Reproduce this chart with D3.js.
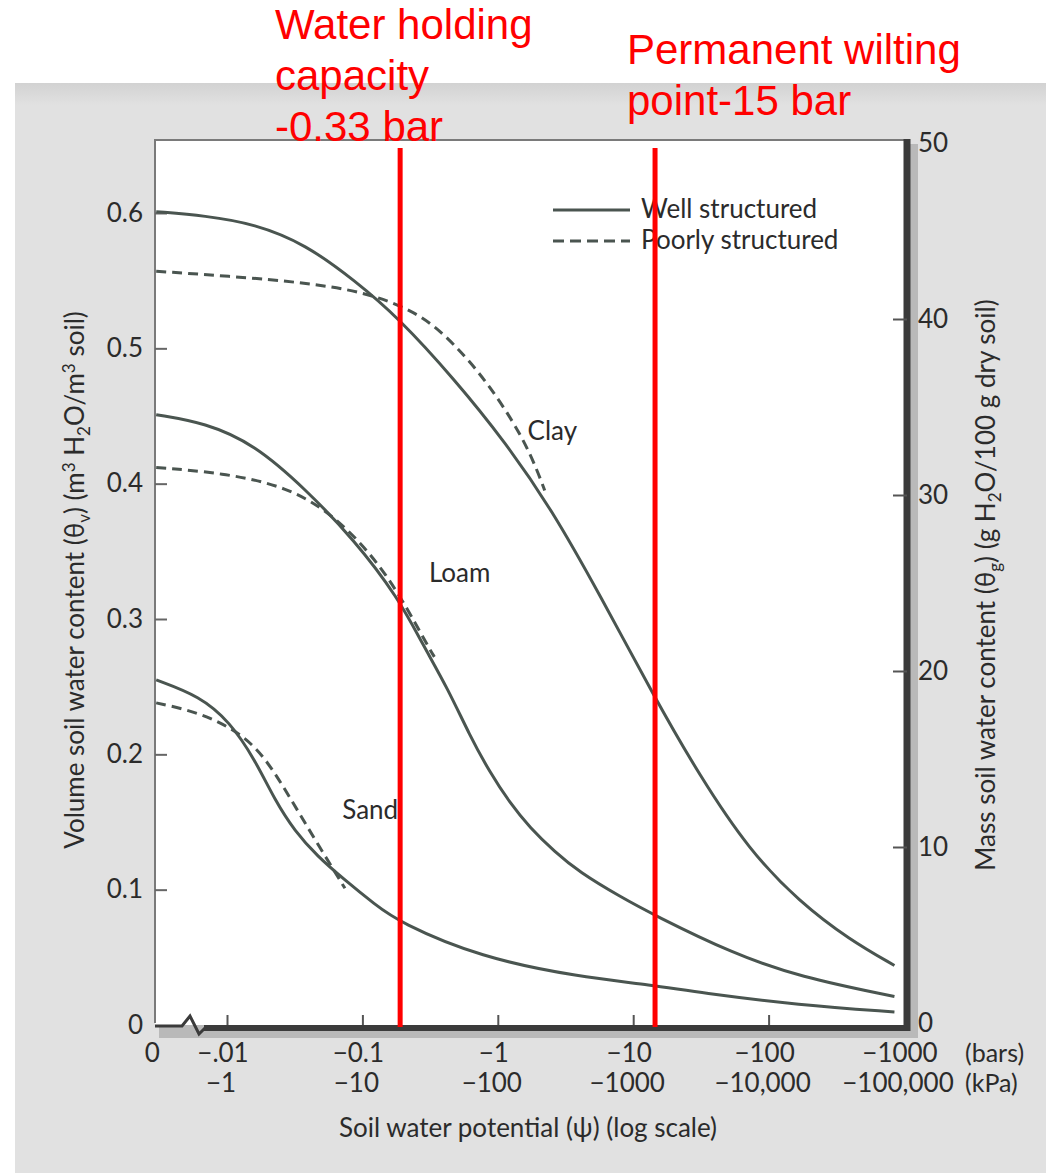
<!DOCTYPE html>
<html>
<head>
<meta charset="utf-8">
<script src="https://cdn.jsdelivr.net/npm/d3@7"></script>
<style>
  body { margin: 0; background: #fff; }
  svg text { font-family: Lato, "Open Sans", sans-serif; fill: #2b2b2b; }
</style>
</head>
<body>
<svg id="chart" width="1046" height="1173"></svg>
<script>
// soil water potential in bars (as magnitudes), water content in m3/m3
// 0.003 stands in for the "0" at the broken left end of the log axis
var zeroPot = 0.003;

var clayWell = [[0.003, 0.601], [0.0069, 0.598], [0.016, 0.592], [0.038, 0.577], [0.088, 0.550],
    [0.183, 0.523], [0.48, 0.477], [1.13, 0.431], [2.5, 0.381], [5.66, 0.318], [14.4, 0.242],
    [31, 0.184], [72, 0.129], [169, 0.091], [396, 0.063], [850, 0.044]];
var clayPoor = [[0.003, 0.557], [0.016, 0.552], [0.05, 0.547], [0.118, 0.540], [0.275, 0.525],
    [0.48, 0.503], [0.84, 0.475], [1.5, 0.436], [1.97, 0.409], [2.22, 0.395]];
var loamWell = [[0.003, 0.451], [0.0069, 0.445], [0.016, 0.429], [0.038, 0.396], [0.088, 0.358],
    [0.183, 0.316], [0.28, 0.281], [0.43, 0.248], [0.62, 0.214], [0.87, 0.187], [1.23, 0.164],
    [1.72, 0.146], [2.63, 0.128], [4.0, 0.113], [7.95, 0.095], [14.4, 0.081], [54, 0.053],
    [169, 0.0355], [850, 0.021]];
var loamPoor = [[0.003, 0.412], [0.0092, 0.408], [0.028, 0.398], [0.066, 0.375], [0.154, 0.334],
    [0.30, 0.281], [0.34, 0.272]];
var sandWell = [[0.003, 0.255], [0.0063, 0.243], [0.0105, 0.224], [0.0161, 0.196], [0.0226, 0.166],
    [0.0318, 0.143], [0.0462, 0.125], [0.0743, 0.107], [0.124, 0.089], [0.186, 0.076],
    [0.74, 0.050], [4.0, 0.0355], [13.9, 0.0296], [31, 0.0237], [169, 0.0148], [850, 0.0096]];
var sandPoor = [[0.003, 0.238], [0.0063, 0.231], [0.0125, 0.216], [0.0191, 0.198], [0.0292, 0.168],
    [0.0446, 0.137], [0.0743, 0.101]];

var soilNames = ["Clay", "Loam", "Sand"];
var soilLabelAt = [[1.66, 0.432], [0.31, 0.327], [0.071, 0.152]];

var leftTicks = [0, 0.1, 0.2, 0.3, 0.4, 0.5, 0.6];
var rightTicks = [0, 10, 20, 30, 40, 50];
var barTicks = [zeroPot, 0.01, 0.1, 1, 10, 100, 1000];
var barLabels = ["0", "\u2212.01", "\u22120.1", "\u22121", "\u221210", "\u2212100", "\u22121000"];
var kpaTicks = [0.01, 0.1, 1, 10, 100, 1000];
var kpaLabels = ["\u22121", "\u221210", "\u2212100", "\u22121000", "\u221210,000", "\u2212100,000"];

// red markers: field capacity and permanent wilting point (bars)
var markerPots = [0.19, 14.5];

var svg = d3.select("#chart");
var curveColor = "#4a5550";

var x = d3.scaleLog().domain([0.01, 1000]).range([227, 904]);
var y = d3.scaleLinear().domain([0, 0.6]).range([1025, 213]);
var yR = d3.scaleLinear().domain([0, 50]).range([1023, 143]);

var plotLeft = 155, plotTop = 140, plotRight = 904, plotBottom = 1025;

// grey panel
var defs = svg.append("defs");
var grad = defs.append("linearGradient").attr("id", "topband")
    .attr("x1", 0).attr("y1", 0).attr("x2", 0).attr("y2", 1);
grad.append("stop").attr("offset", "0%").attr("stop-color", "#d2d2d2");
grad.append("stop").attr("offset", "100%").attr("stop-color", "#e1e1e1");
svg.append("rect").attr("x", 15).attr("y", 83).attr("width", 1031).attr("height", 1090)
    .attr("fill", "#e1e1e1");
svg.append("rect").attr("x", 15).attr("y", 83).attr("width", 1031).attr("height", 22)
    .attr("fill", "url(#topband)");

// plot box with shadow on right and bottom
svg.append("rect").attr("x", plotLeft + 4).attr("y", plotTop + 4)
    .attr("width", plotRight - plotLeft + 10).attr("height", plotBottom - plotTop + 9)
    .attr("fill", "#b9b9b9");
svg.append("rect").attr("x", plotLeft).attr("y", plotTop)
    .attr("width", plotRight - plotLeft).attr("height", plotBottom - plotTop)
    .attr("fill", "#fff");
svg.append("path")
    .attr("d", "M" + plotLeft + "," + (plotBottom - 2) + "V" + plotTop + "H" + (plotRight + 2))
    .attr("fill", "none").attr("stroke", "#7a7a7a").attr("stroke-width", 2);
svg.append("line").attr("x1", plotRight + 3).attr("x2", plotRight + 3)
    .attr("y1", plotTop - 1).attr("y2", plotBottom + 6)
    .attr("stroke", "#3b3b3b").attr("stroke-width", 7);
svg.append("line").attr("x1", 204).attr("x2", plotRight + 6)
    .attr("y1", plotBottom + 3).attr("y2", plotBottom + 3)
    .attr("stroke", "#3b3b3b").attr("stroke-width", 6);
// broken axis near zero
svg.append("path")
    .attr("d", "M" + plotLeft + "," + (plotBottom + 1) + "H182L190,1016L199,1034L206,1027")
    .attr("fill", "none").attr("stroke", "#3b3b3b").attr("stroke-width", 3)
    .attr("stroke-linejoin", "miter");

// left axis (ticks inward)
var gL = svg.append("g").attr("transform", "translate(" + plotLeft + ",0)")
    .call(d3.axisLeft(y).tickValues(leftTicks).tickSize(-12).tickPadding(12)
        .tickFormat(function (d) { return d === 0 ? "0" : d3.format(".1f")(d); }));
gL.select(".domain").remove();
gL.selectAll(".tick line").attr("stroke", "#666").attr("stroke-width", 2)
    .filter(function (d) { return d === 0; }).remove();
gL.selectAll(".tick text").attr("font-size", 26).attr("font-family", "Lato").attr("fill", "#2b2b2b");

// right axis (ticks inward)
var gR = svg.append("g").attr("transform", "translate(" + (plotRight + 3) + ",0)")
    .call(d3.axisRight(yR).tickValues(rightTicks).tickSize(-14).tickPadding(11));
gR.select(".domain").remove();
gR.selectAll(".tick line").attr("stroke", "#555").attr("stroke-width", 2)
    .filter(function (d) { return d === 0 || d === 50; }).remove();
gR.selectAll(".tick text").attr("font-size", 26).attr("font-family", "Lato").attr("fill", "#2b2b2b");

// bottom ticks (inward)
var gB = svg.append("g").attr("transform", "translate(0," + plotBottom + ")")
    .call(d3.axisBottom(x).tickValues(kpaTicks.slice(0, 5)).tickSize(-10).tickFormat(""));
gB.select(".domain").remove();
gB.selectAll(".tick line").attr("stroke", "#555").attr("stroke-width", 2);

svg.append("g").selectAll("text").data(barTicks).join("text")
    .attr("x", function (d) { return x(d) - 4; })
    .attr("y", 1062)
    .attr("text-anchor", "middle")
    .attr("font-size", 26)
    .text(function (d, i) { return barLabels[i]; });
svg.append("g").selectAll("text").data(kpaTicks).join("text")
    .attr("x", function (d) { return x(d) - 6; })
    .attr("y", 1092)
    .attr("text-anchor", "middle")
    .attr("font-size", 26)
    .text(function (d, i) { return kpaLabels[i]; });
svg.append("text").attr("x", 965).attr("y", 1062).attr("font-size", 25).text("(bars)");
svg.append("text").attr("x", 965).attr("y", 1092).attr("font-size", 25).text("(kPa)");

svg.append("text").attr("x", 528).attr("y", 1137).attr("text-anchor", "middle")
    .attr("font-size", 26).text("Soil water potential (\u03c8) (log scale)");

// axis titles with sub/superscripts
function richText(sel, parts) {
    var shift = 0;
    parts.forEach(function (p) {
        var target = p[1] === "sub" ? 6 : p[1] === "sup" ? -9 : 0;
        sel.append("tspan").attr("dy", target - shift)
            .attr("font-size", p[1] ? 17 : null).text(p[0]);
        shift = target;
    });
}
var tl = svg.append("text").attr("transform", "translate(84,580) rotate(-90)")
    .attr("text-anchor", "middle").attr("font-size", 26);
richText(tl, [["Volume soil water content (\u03b8"], ["v", "sub"], [") (m"], ["3", "sup"],
    [" H"], ["2", "sub"], ["O/m"], ["3", "sup"], [" soil)"]]);
var tr = svg.append("text").attr("transform", "translate(995,585) rotate(-90)")
    .attr("text-anchor", "middle").attr("font-size", 26);
richText(tr, [["Mass soil water content (\u03b8"], ["g", "sub"], [") (g H"], ["2", "sub"],
    ["O/100 g dry soil)"]]);

// curves
var line = d3.line()
    .x(function (d) { return x(d[0]); })
    .y(function (d) { return y(d[1]); })
    .curve(d3.curveBasis);

[clayPoor, loamPoor, sandPoor].forEach(function (s) {
    svg.append("path").attr("d", line(s)).attr("fill", "none")
        .attr("stroke", curveColor).attr("stroke-width", 3).attr("stroke-dasharray", "10,6");
});
[clayWell, loamWell, sandWell].forEach(function (s) {
    svg.append("path").attr("d", line(s)).attr("fill", "none")
        .attr("stroke", curveColor).attr("stroke-width", 3);
});

svg.append("g").selectAll("text").data(soilLabelAt).join("text")
    .attr("x", function (d) { return x(d[0]); })
    .attr("y", function (d) { return y(d[1]); })
    .attr("font-size", 26)
    .text(function (d, i) { return soilNames[i]; });

// legend
var leg = svg.append("g");
leg.append("line").attr("x1", 553).attr("x2", 630).attr("y1", 210).attr("y2", 210)
    .attr("stroke", curveColor).attr("stroke-width", 3);
leg.append("line").attr("x1", 553).attr("x2", 630).attr("y1", 241).attr("y2", 241)
    .attr("stroke", curveColor).attr("stroke-width", 3).attr("stroke-dasharray", "11,6");
leg.append("text").attr("x", 641).attr("y", 218).attr("font-size", 26).text("Well structured");
leg.append("text").attr("x", 641).attr("y", 249).attr("font-size", 26).text("Poorly structured");

// red marker lines
svg.append("g").selectAll("line").data(markerPots).join("line")
    .attr("x1", function (d) { return x(d); })
    .attr("x2", function (d) { return x(d); })
    .attr("y1", 148).attr("y2", 1027)
    .attr("stroke", "#ff0000").attr("stroke-width", 5);

// red annotations
var notes = [
    { x: 275, y: 39, t: "Water holding" }, { x: 275, y: 90, t: "capacity" },
    { x: 275, y: 141, t: "-0.33 bar" },
    { x: 627, y: 64, t: "Permanent wilting" }, { x: 627, y: 115, t: "point-15 bar" }
];
svg.append("g").selectAll("text").data(notes).join("text")
    .attr("x", function (d) { return d.x; })
    .attr("y", function (d) { return d.y; })
    .attr("font-size", 42)
    .style("font-family", "'Liberation Sans', Arial, sans-serif")
    .style("fill", "#ff0000")
    .text(function (d) { return d.t; });
</script>
</body>
</html>
